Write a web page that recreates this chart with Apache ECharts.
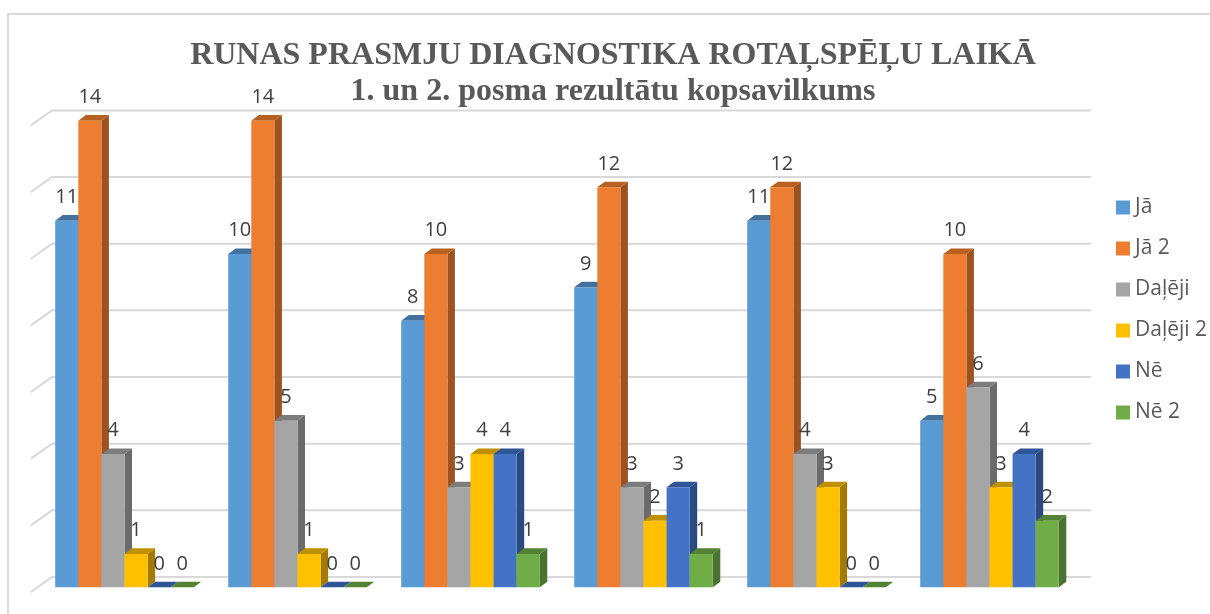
<!DOCTYPE html>
<html>
<head>
<meta charset="utf-8">
<style>
  html, body { margin: 0; padding: 0; background: #fff; }
  #main { width: 1210px; height: 614px; }
</style>
<script src="https://cdn.jsdelivr.net/npm/echarts@6/dist/echarts.min.js"></script>
</head>
<body>
<div id="main"></div>
<script>
var titleText = "RUNAS PRASMJU DIAGNOSTIKA ROTAĻSPĒĻU LAIKĀ\n1. un 2. posma rezultātu kopsavilkums";
var categories = ["1", "2", "3", "4", "5", "6"];
var yTicks = [0, 2, 4, 6, 8, 10, 12, 14];
var seriesNames = ["Jā", "Jā 2", "Daļēji", "Daļēji 2", "Nē", "Nē 2"];
var seriesColors = ["#5B9BD5", "#ED7D31", "#A5A5A5", "#FFC000", "#4472C4", "#70AD47"];
var topColors = ["#41719C", "#B8601F", "#7C7C7C", "#BF9000", "#2F5597", "#548235"];
var sideColors = ["#37618A", "#9E5220", "#6B6B6B", "#A37B00", "#2A4A80", "#4A7230"];
var ja = [11, 10, 8, 9, 11, 5];
var ja2 = [14, 14, 10, 12, 12, 10];
var daleji = [4, 5, 3, 3, 4, 6];
var daleji2 = [1, 1, 4, 2, 3, 3];
var ne = [0, 0, 4, 3, 0, 4];
var ne2 = [0, 0, 1, 1, 0, 2];
var seriesValues = [ja, ja2, daleji, daleji2, ne, ne2];

var chart = echarts.init(document.getElementById("main"));

// fake 3d depth of the bars, the old chart had it from excel
var depthX = 7.5;
var depthY = 5.6;
var barShare = 0.1335;

function renderBar(seriesPos) {
  return function (params, api) {
    var top = api.coord([api.value(0), api.value(1)]);
    var base = api.coord([api.value(0), 0]);
    var w = api.size([1, 0])[0] * barShare;
    var x = top[0] + (seriesPos - 3) * w;
    var y = top[1];
    return {
      type: "group",
      children: [
        {
          type: "polygon",
          shape: { points: [[x + w, y], [x + w + depthX, y - depthY], [x + w + depthX, base[1] - depthY], [x + w, base[1]]] },
          style: { fill: sideColors[seriesPos] }
        },
        {
          type: "polygon",
          shape: { points: [[x, y], [x + w, y], [x + w + depthX, y - depthY], [x + depthX, y - depthY]] },
          style: { fill: topColors[seriesPos] }
        },
        {
          type: "rect",
          shape: { x: x, y: y, width: w, height: base[1] - y },
          style: { fill: seriesColors[seriesPos] }
        },
        {
          type: "text",
          z2: 100,
          style: {
            text: String(api.value(1)),
            x: x + w / 2,
            y: y - 23.5,
            align: "center",
            verticalAlign: "middle",
            fill: "#404040",
            font: '20px "Open Sans"'
          }
        }
      ]
    };
  };
}

function renderGridLine(params, api) {
  var p = api.coord([0, api.value(0)]);
  var y = p[1] - 10.3;
  return {
    type: "polyline",
    shape: { points: [[31, y + 15], [52, y], [1091, y]] },
    style: { fill: "none", stroke: "#D9D9D9", lineWidth: 2 }
  };
}

var series = [
  {
    name: "grid",
    type: "custom",
    silent: true,
    clip: false,
    renderItem: renderGridLine,
    encode: { y: 0 },
    data: yTicks.map(function (v) { return [v]; })
  }
];
seriesNames.forEach(function (name, i) {
  series.push({
    name: name,
    type: "custom",
    clip: false,
    renderItem: renderBar(i),
    itemStyle: { color: seriesColors[i] },
    encode: { x: 0, y: 1 },
    data: seriesValues[i].map(function (v, c) { return [c, v]; })
  });
});

chart.setOption({
  animation: false,
  backgroundColor: "#fff",
  title: {
    text: titleText,
    left: 608,
    top: 33,
    textAlign: "center",
    textStyle: {
      fontFamily: "Liberation Serif",
      fontWeight: "bold",
      fontSize: 32,
      lineHeight: 36,
      color: "#595959"
    }
  },
  legend: {
    data: seriesNames,
    orient: "vertical",
    left: 1111,
    top: 192,
    icon: "rect",
    itemWidth: 14,
    itemHeight: 14,
    itemGap: 20,
    textStyle: { fontFamily: "Open Sans", fontSize: 21, color: "#595959" }
  },
  grid: { left: 38, top: 120.7, width: 1038, height: 466.6 },
  xAxis: {
    type: "category",
    data: categories,
    axisLine: { show: false },
    axisTick: { show: false },
    axisLabel: { show: false }
  },
  yAxis: {
    type: "value",
    min: 0,
    max: 14,
    interval: 2,
    axisLine: { show: false },
    axisTick: { show: false },
    axisLabel: { show: false },
    splitLine: { show: false }
  },
  graphic: [
    {
      type: "polyline",
      silent: true,
      shape: { points: [[8, 614], [8, 14], [1210, 14]] },
      style: { fill: "none", stroke: "#D9D9D9", lineWidth: 2 }
    }
  ],
  series: series
});
</script>
</body>
</html>
